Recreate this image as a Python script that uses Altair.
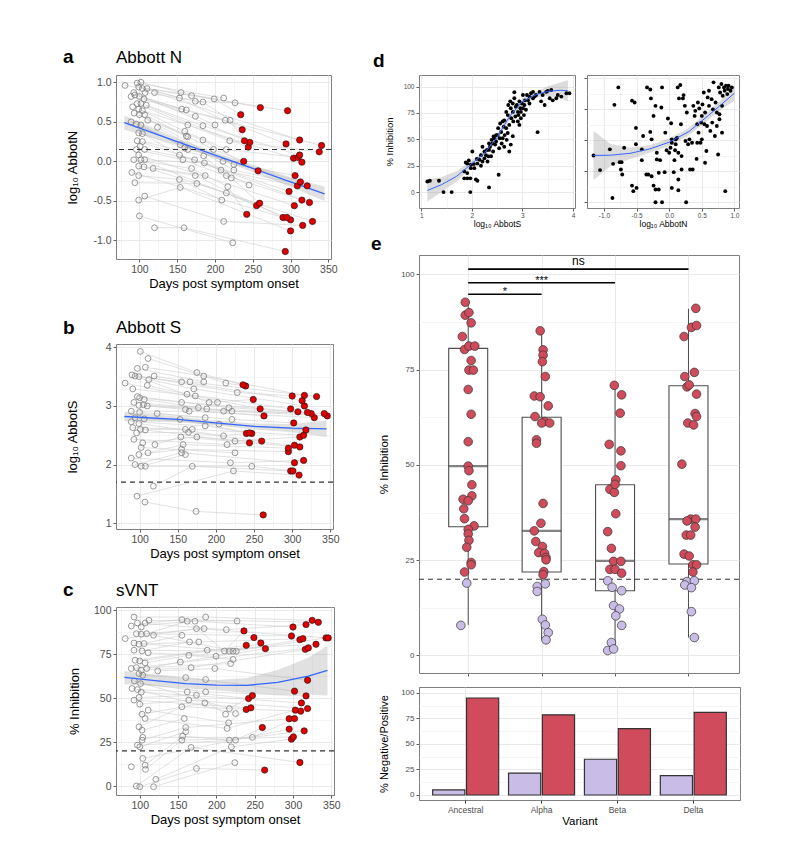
import json
import altair as alt
import pandas as pd

FONT = "Liberation Sans"
GRID = "#e8e8e8"
BLUE = "#3366ff"
RED_A = "#e00000"
RED_E = "#d04b5b"
LAV_E = "#c9bce7"

# ---------------- Panel a: Abbott N ----------------
A_V1 = [(81,0.96),(89,0.82),(92.5,0.87),(97,0.99),(99,0.94),(102,1.0),(104,0.92),(110,0.92),(107.5,0.87),(94,0.84),(100,0.82),(106,0.79),(97,0.73),(102,0.73),(109,0.71),(91,0.69),(99,0.66),(104,0.64),(93,0.61),(100,0.59),(107,0.59),(111,0.52),(89,0.50),(96,0.47),(102,0.46),(120,0.87),(124,0.43),(99,0.36),(104,0.35),(97,0.26),(104,0.25),(101,0.19),(96,0.15),(107,0.15),(99,0.08),(92.5,0.02),(102,0.02),(107,0.02),(99,-0.06),(106,-0.07),(118,-0.09),(90,-0.14),(99,-0.18),(94,-0.27),(107,-0.44),(99,-0.49),(100,-0.69),(120,-0.84)]
A_V2 = [(155,0.87),(169,0.83),(153,0.80),(174,0.76),(184,0.75),(156,0.66),(162,0.65),(174,0.57),(164,0.46),(184,0.45),(160,0.38),(162,0.32),(164,0.31),(184,0.27),(154,0.21),(160,0.17),(164,0.15),(153,0.08),(157.5,0.02),(173,0.02),(185,0.07),(186,-0.02),(169,-0.09),(174,-0.18),(176,-0.28),(187,-0.18),(153,-0.23),(154,-0.33),(159,-0.84)]
A_V3 = [(199,0.79),(211.5,0.80),(226.5,0.74),(213.7,0.52),(200,0.46),(220,0.52),(219.5,0.26),(198,0.15),(215,0.15),(210.6,0.0),(225,-0.04),(208,-0.11),(225,-0.11),(215,-0.18),(221.7,-0.21),(217,-0.32),(215,-0.40),(209,-0.49),(211.5,-0.76),(223.5,-1.03),(245,-0.30)]
A_RED = [(234,0.59),(236,0.40),(239,0.26),(246,0.24),(244,0.18),(238,0.00),(257,-0.12),(260,0.68),(255,-0.56),(259,-0.53),(242,-0.67),(296,0.64),(294,0.22),(312,0.27),(304,0.04),(310,0.05),(312,0.08),(315,-0.01),(306,-0.18),(309,-0.31),(313,-0.26),(322,-0.31),(298,-0.38),(305,-0.56),(315,-0.49),(325,-0.52),(290,-0.71),(295,-0.71),(300,-0.74),(300,-0.88),(316,-0.81),(329,-0.76),(293,-1.14),(338,0.12),(341,0.20)]
FIT_A_DAY = [80, 150, 200, 250, 300, 345]
FIT_A_Y = [0.49, 0.25, 0.08, -0.09, -0.26, -0.41]
FIT_A_LO = [0.40, 0.21, 0.045, -0.135, -0.32, -0.50]
FIT_A_HI = [0.58, 0.29, 0.115, -0.045, -0.20, -0.32]

# ---------------- Panel b: Abbott S ----------------
B_V1 = [(81,3.39),(101,3.93),(111,3.81),(97,3.64),(107.5,3.66),(90,3.53),(94,3.51),(99,3.50),(119,3.51),(112,3.45),(110,3.35),(91,3.29),(97,3.16),(100,3.14),(106,3.11),(92.5,3.06),(99,3.01),(105,3.02),(110,3.0),(89,2.91),(100,2.89),(94,2.80),(106,2.78),(123,2.87),(89,2.73),(99,2.70),(91,2.63),(101,2.60),(107.5,2.59),(96,2.54),(92.5,2.43),(104,2.37),(120,2.34),(102,2.29),(111,2.20),(99,2.17),(89,2.11),(94,2.0),(102,1.97),(107.5,1.97),(118,1.63),(96.5,1.46),(107,1.36)]
B_V2 = [(155,3.41),(166,3.41),(175,3.57),(184,3.51),(184,3.41),(162,3.20),(171,3.29),(173,3.17),(155,3.06),(160,2.94),(165,2.91),(177,2.97),(188,2.95),(186,2.80),(186,2.66),(153,2.77),(160,2.6),(164,2.55),(169,2.6),(154,2.47),(157,2.34),(175,2.47),(155,2.26),(155,2.2),(160,2.17),(169,1.97),(174,1.2)]
B_V3 = [(202,3.06),(213,3.39),(228,3.23),(217,2.97),(221,2.91),(210,2.91),(221,2.77),(210,2.49),(214.6,2.34),(225,2.40),(225,2.20),(219,2.03),(223,1.89),(247,1.97),(204,2.69),(191,3.06)]
B_RED = [(235.5,3.36),(239,3.34),(249,3.11),(258,2.95),(263,2.83),(240,2.53),(244,2.54),(247,2.53),(244,2.37),(260,2.40),(262,1.14),(300,3.17),(316,3.18),(332,3.16),(313,3.09),(316,3.0),(298,2.95),(307.5,2.90),(320,2.89),(325,2.87),(329,2.80),(342,2.87),(346,2.83),(302,2.71),(318,2.59),(315,2.50),(310,2.47),(295,2.28),(295,2.22),(303,2.33),(310,2.30),(315,2.07),(303,2.03),(298,1.89),(301,1.89),(309,1.82)]
FIT_B_DAY = [80, 150, 200, 250, 300, 345]
FIT_B_Y = [2.82, 2.77, 2.71, 2.65, 2.62, 2.61]
FIT_B_LO = [2.74, 2.72, 2.67, 2.60, 2.55, 2.47]
FIT_B_HI = [2.90, 2.82, 2.75, 2.70, 2.69, 2.75]

# ---------------- Panel c: sVNT ----------------
C_V1 = [(81,83.9),(92.5,96.2),(89,91.1),(97,92.8),(102,90.5),(107,92.8),(112,94.3),(95.6,86.7),(102,86.4),(109,86.7),(118,85.8),(92.5,81.4),(99,80.7),(105.6,81.1),(92.5,77.3),(103,76.9),(111,75.8),(94,71.6),(100,71.2),(107,70.1),(89,66.9),(95.6,67.4),(102,65.9),(109,66.9),(123.5,65.5),(99,64),(104,63.1),(93,59.8),(101,58.3),(90,55.5),(97,54.9),(102,53.4),(99,50.4),(92.5,48.9),(100,46.6),(103,40.9),(107,38.4),(111,43.2),(99,33.7),(103,31.8),(104,27.7),(103,26.1),(97,23.3),(100,22.3),(104,15.7),(107,11.9),(107.5,9.5),(89,11),(95.6,0),(100,-0.4),(118,-0.4),(121,3.8)]
C_V2 = [(155,94.7),(162,93.8),(172,93.8),(186,96.2),(174,89.6),(184,89.6),(155,85.8),(165,82),(177,82),(188,77.3),(164,74.4),(153,70.6),(167,67.4),(160,61.7),(186,60.6),(162,53.6),(186,53.6),(164,48.9),(174,51.7),(155,45.1),(185,47.3),(158,38.4),(160,33.3),(160,30.9),(156,28.4),(155,26.1),(167,22),(174,10)]
C_V3 = [(199.5,73.9),(198,66.9),(213,89),(227,93.9),(217,76.7),(221.7,76.7),(226,76.7),(210.6,76.9),(221.7,72),(218.6,69.7),(212,40.9),(217,44.1),(225,41.3),(216,36),(214,32.8),(217,26.1),(225,26.1),(219.5,22.3),(224,13.3),(247,27.7)]
C_RED = [(236,88.3),(239,80.1),(249,84.5),(258,81.4),(264,78.2),(242,49.8),(247,51.5),(239,43.6),(245,44.5),(260,33.3),(263,9.1),(300,90.5),(298,85.4),(309,83.3),(313,83.9),(317,91.9),(325,94.3),(333,93.2),(316,77.8),(320,78.6),(330,80.7),(343,84.3),(346,84.3),(319,60.2),(302,54),(317,51.3),(311,47.3),(303,43.2),(310,42.6),(319,44.1),(302,38.4),(295,38.3),(295,32.4),(314.6,31.4),(298,26.7),(300.5,28),(309,13.4)]
FIT_C_DAY = [80, 120, 160, 200, 240, 280, 320, 345]
FIT_C_Y = [61.8, 60, 58.3, 57.4, 57.3, 59, 62.5, 65.8]
FIT_C_LO = [58, 57, 55.5, 54.5, 53, 52, 52, 51.5]
FIT_C_HI = [65.5, 63, 61, 60.3, 61.5, 66, 73, 80]

DAY_MAJOR = [100, 150, 200, 250, 300, 350]
DAY_MINOR = [75, 125, 175, 225, 275, 325]

# ---------------- Panel d ----------------
DL = [(1.12,10),(1.17,10.7),(1.35,10.7),(1.44,0),(1.60,0),(1.97,0),(1.85,13),(1.91,13),(1.97,13),(2.11,10.7),(2.08,12),(2.34,4.4),(2.53,16.4),(1.88,28),(1.91,27),(1.94,30),(1.98,26),(2.01,38.5),(2.05,22.7),(2.11,27),(2.15,30.6),(2.18,25),(2.21,43),(2.25,32),(2.28,35),(2.31,29),(2.34,40),(2.38,34),(2.41,46),(2.36,43),(2.44,51),(2.48,48),(2.51,54),(2.54,41.6),(2.58,57),(2.61,51),(2.64,43),(2.68,60.6),(2.71,56),(2.74,38.5),(2.77,45),(2.81,53),(2.61,67),(2.64,68),(2.71,73),(2.77,79.5),(2.81,84),(2.84,94.6),(2.87,81),(2.91,76),(2.94,86),(2.97,70),(3.01,92),(3.04,82.6),(3.07,78),(3.11,87),(3.14,90.5),(3.17,93.7),(3.21,95),(3.24,90.5),(3.30,56.8),(3.37,86),(3.40,92),(3.44,82.6),(3.47,95),(3.50,96),(3.54,89),(3.60,87),(3.67,89),(3.87,93.7),(3.93,93.7),(2.72,82.6),(2.76,86),(2.81,76),(2.84,89),(2.89,82.6),(2.92,73),(2.96,79.5),(2.99,84),(3.03,73),(3.05,87),(3.09,92),(2.68,76),(2.63,62),(2.56,65),(2.52,60.6),(2.48,54),(2.43,52.7),(2.39,49.5),(2.34,46),(2.30,40),(2.25,38.5),(2.18,35),(2.10,31.5),(2.04,26.5),(1.98,22.7),(1.85,19.6),(1.91,18),(2.65,54),(2.69,49.5),(2.59,46),(2.55,51),(2.46,45),(2.42,38.5),(2.33,33.8),(2.21,29),(2.74,63.7),(2.78,70),(2.82,67),(2.86,71.6),(2.91,67),(2.94,63.7),(2.97,76),(3.01,79.5),(3.14,84),(3.21,89),(3.27,92),(3.34,95),(3.57,96.8),(3.70,92),(3.77,90.5)]
FIT_DL_X = [1.12, 1.4, 1.7, 2.0, 2.25, 2.5, 2.75, 3.0, 3.25, 3.5, 3.75, 3.9]
FIT_DL_Y = [1.5, 7, 15, 27, 37, 52, 72, 86, 92, 95.5, 96.5, 96]
FIT_DL_LO = [-9, 0, 10, 24, 34, 49, 69, 83, 89, 91, 89, 86]
FIT_DL_HI = [12, 14, 20, 30, 40, 55, 75, 89, 95, 100, 104, 106]

DR = [(-1.16,37.8),(-1.06,26),(-0.91,42.7),(-0.86,31),(-0.87,3.5),(-0.84,78.6),(-0.78,92.7),(-0.76,32.4),(-0.73,32.4),(-0.74,26.5),(-0.72,22.4),(-0.69,44),(-0.57,82),(-0.53,80.5),(-0.57,13.5),(-0.55,9),(-0.50,11.6),(-0.51,60),(-0.51,46.8),(-0.42,34),(-0.40,53.5),(-0.35,22.4),(-0.34,92.7),(-0.29,91),(-0.29,56.8),(-0.28,83.8),(-0.27,50.8),(-0.24,69.7),(-0.24,13.5),(-0.21,10.3),(-0.19,40),(-0.19,34.6),(-0.21,77.8),(-0.16,10.3),(-0.14,34),(-0.12,76.5),(-0.11,92.7),(-0.21,0),(-0.11,0),(-0.07,24.3),(-0.04,42),(-0.02,67.6),(0,40),(0.02,44),(0.03,63.8),(0.04,48),(0.07,24.3),(0.08,34),(0.09,42),(0.10,46.8),(0.12,52),(0.13,92.7),(0.14,9.7),(0.15,83.8),(0.17,94.6),(0.18,63),(0.19,26.5),(0.21,83.8),(0.22,86.5),(0.24,77.8),(0.25,49.5),(0.26,0),(0.27,72.4),(0.29,46.8),(0.31,50.8),(0.32,26.5),(0.35,48),(0.36,26.5),(0.37,77.8),(0.39,69.7),(0.40,73.8),(0.42,35),(0.43,63),(0.44,80.5),(0.45,56.2),(0.46,75.7),(0.48,48),(0.49,64.3),(0.50,69.7),(0.51,79),(0.53,88.6),(0.54,63),(0.55,31.9),(0.57,41.4),(0.58,61.6),(0.59,84.6),(0.61,90),(0.63,57.6),(0.65,83.2),(0.66,64.3),(0.67,75),(0.68,96.8),(0.70,53.5),(0.71,80.5),(0.73,61.6),(0.75,38.6),(0.76,92.7),(0.77,71),(0.78,88.6),(0.80,95.4),(0.81,56.2),(0.82,86),(0.84,92.7),(0.85,90),(0.86,9),(0.87,94),(0.89,87.3),(0.90,91.4),(0.91,94),(0.94,90),(0.96,92.7),(0.81,77.8),(0.77,67),(0.73,72.4),(0.61,77.8),(0.55,72.4),(0.50,50.8),(0.43,48),(0.04,50.8),(0.10,50.8),(-0.27,21),(-0.16,23.8),(0.04,11.6),(0.14,18.4),(-0.32,22.4),(0.14,40),(0.19,37.3),(-0.06,56.2),(-0.42,42.7)]
FIT_DR_X = [-1.16, -0.9, -0.6, -0.3, 0, 0.3, 0.6, 0.8, 1.0]
FIT_DR_Y = [37.8, 38, 39.5, 43, 48.5, 57, 70, 79, 88]
FIT_DR_LO = [18, 29, 35, 40, 45.5, 54, 66.5, 75, 82]
FIT_DR_HI = [57.6, 47, 44, 46, 51.5, 60, 73.5, 83, 94]

PCT_MAJOR = [0, 25, 50, 75, 100]
PCT_MINOR = [12.5, 37.5, 62.5, 87.5]

# ---------------- Panel e ----------------
VARIANTS = ["Ancestral", "Alpha", "Beta", "Delta"]
E_ANC_Y = [92.7,89.3,90,87.3,83.7,80.3,81.2,81.2,77.4,74.9,74.9,69.8,63.3,56.1,49.7,48.5,44.8,41.9,41,40.6,38.5,35.9,34,33.1,31.9,30.2,28.4,24.4,23.8,21.9,19,7.9]
E_ANC_DX = [-0.04,-0.04,0.01,0.04,-0.08,-0.05,0.01,0.09,0.04,0.01,0.07,0,0.04,0,0,0.01,0.05,0.05,-0.07,0,-0.06,-0.05,0.08,0,0,0.01,-0.02,0.04,0.04,-0.05,-0.02,-0.1]
E_ALP_Y = [85.2,80.2,78.8,77.1,73.2,68.1,67.9,65.5,62.7,61.4,61,61,56.6,55.7,39.9,34.7,32.7,29.9,28.6,27,26.8,25.7,25.1,22,21.2,18.1,18.8,16.8,9.5,8,6,4.1]
E_ALP_DX = [-0.02,0.02,0.02,0.01,0.05,-0.1,-0.02,0.09,-0.09,0.04,0,0.11,-0.07,-0.07,0.02,-0.01,-0.1,-0.08,0.01,-0.04,0.04,0.06,0.06,0.03,0.02,-0.06,0.05,-0.06,0.01,0.05,0.09,0.06]
E_BET_Y = [70.9,68.4,63.6,55.4,53.7,49.8,46.1,43.6,42.8,44.9,37.2,32.5,28.1,24.7,24.7,22.6,22.6,21.6,19.6,17.9,17,13.1,12.2,10.4,7.9,3.4,1.3,1.7]
E_BET_DX = [-0.01,0.09,0.07,-0.08,0.08,0.08,0.01,-0.07,-0.01,0,0.01,-0.1,-0.05,-0.02,0.08,-0.07,0,0.09,-0.1,-0.04,0.09,-0.02,0.06,0.01,0.09,-0.05,-0.1,-0.02]
E_DEL_Y = [91.1,86.1,86.6,83.7,74.3,73.2,70.5,71,68.6,63.5,62.7,61,60.5,50.2,35.8,35.8,35.3,33.7,31.6,31.6,26.6,26.1,23.8,23.8,21.9,19.4,19.6,18.5,17.8,11.5,4.7]
E_DEL_DX = [0.1,0.04,0.11,-0.06,0.08,-0.05,-0.02,0.01,0.11,0.09,0.11,-0.01,0.07,-0.09,0.03,0.1,-0.02,0.09,-0.03,0.03,-0.06,0.01,0.06,0.11,0.06,-0.02,0.08,-0.05,0.04,0.04,0.08]
BOX_MIN = [8.0, 4.1, 1.3, 4.7]
BOX_Q1 = [33.8, 21.9, 17.0, 24.0]
BOX_MED = [49.7, 32.7, 24.8, 35.8]
BOX_Q3 = [80.6, 62.5, 44.8, 70.8]
BOX_MAX = [92.7, 85.2, 70.9, 91.0]
SIG_X1 = [1, 1, 1]
SIG_X2 = [2, 3, 4]
SIG_Y = [94.8, 97.8, 101.4]
SIG_LAB = ["*", "***", "ns"]
BAR_NEG = [5, 21.5, 35, 19]
BAR_POS = [95, 78.5, 65, 81]


def test_of(major):
    return "indexof(%s, datum.value) >= 0" % json.dumps(major)


def axis(major, minor=(), fmt="d", title=None, lsize=10.5, tsize=13, tpad=4, lpad=2, labels=True):
    major = list(major)
    vals = sorted(set(major) | set(minor))
    t = test_of(major)
    kw = dict(values=vals, grid=True, gridColor=GRID,
              gridWidth={"condition": {"test": t, "value": 0.9}, "value": 0.45},
              tickOpacity={"condition": {"test": t, "value": 1}, "value": 0},
              tickSize=3, tickColor="#333333", tickWidth=0.8, domain=False,
              labelFont=FONT, labelFontSize=lsize, labelColor="#4d4d4d", labelPadding=lpad,
              titleFont=FONT, titleFontSize=tsize, titleFontWeight="normal", titleColor="#000000",
              titlePadding=tpad, labelFlush=False, labelOverlap=False, title=title)
    if labels:
        kw["labelExpr"] = f"{t} ? replace(format(datum.value, '{fmt}'), '\u2212', '-') : ''"
    else:
        kw["labels"] = False
    return alt.Axis(**kw)


def txt(s, x, y, size, bold=False, opacity=1):
    return alt.Chart(pd.DataFrame({"t": [s]})).mark_text(
        font=FONT, fontSize=size, fontWeight="bold" if bold else "normal",
        align="left", baseline="alphabetic", color="black", opacity=opacity
    ).encode(x=alt.value(x), y=alt.value(y), text="t:N")


def link(clusters):
    n0 = len(clusters[0])
    rows = []
    for k, cl in enumerate(clusters):
        order = sorted(range(len(cl)), key=lambda j: cl[j][1])
        n = len(cl)
        for r, j in enumerate(order):
            sid = int(round((r + 0.5) * n0 / n - 0.5))
            rows.append({"subj": sid, "day": cl[j][0], "val": cl[j][1],
                         "red": int(k == len(clusters) - 1)})
    return pd.DataFrame(rows)


def timecourse(clusters, ydom, ymaj, ymin, yfmt, ytitle, ytpad, hline, fit,
               letter, title, width, height, ly, ty, extra=()):
    df = link(clusters)
    xs = alt.Scale(domain=[69, 353.5], nice=False, zero=False)
    ys = alt.Scale(domain=ydom, nice=False, zero=False)
    xa = axis(DAY_MAJOR, DAY_MINOR, "d", "Days post symptom onset", tpad=3, lpad=2)
    ya = axis(ymaj, ymin, yfmt, ytitle, tpad=ytpad, lpad=2)

    def X(f):
        return alt.X(f, type="quantitative", scale=xs, axis=xa)

    def Y(f):
        return alt.Y(f, type="quantitative", scale=ys, axis=ya)

    base = alt.Chart(df)
    lines = base.mark_line(color="#cdcdcd", strokeWidth=0.6).encode(
        X("day"), Y("val"), detail="subj:N", order="day:Q")
    grey = base.transform_filter("datum.red == 0").mark_point(
        shape="circle", filled=False, color="#7f7f7f", size=34, strokeWidth=0.8, opacity=1
    ).encode(X("day"), Y("val"))
    reds = base.transform_filter("datum.red == 1").mark_circle(
        fill=RED_A, stroke="#111111", strokeWidth=0.6, size=40, opacity=1
    ).encode(X("day"), Y("val"))
    fdf = pd.DataFrame({"day": fit[0], "fit": fit[1], "lo": fit[2], "hi": fit[3]})
    band = alt.Chart(fdf).mark_area(color="#9a9a9a", opacity=0.3, clip=True).encode(
        X("day"), Y("lo"), y2=alt.Y2("hi"))
    fl = alt.Chart(fdf).mark_line(color=BLUE, strokeWidth=1.3, clip=True).encode(X("day"), Y("fit"))
    hl = alt.Chart(pd.DataFrame({"v": [hline]})).mark_rule(
        color="#333333", strokeWidth=1.2, strokeDash=[5, 4]).encode(Y("v"))
    return alt.layer(lines, band, grey, fl, hl, reds,
                     txt(letter, -53, ly, 19, True), txt(title, 0, ty, 17), *extra
                     ).properties(width=width, height=height)


panel_a = timecourse([A_V1, A_V2, A_V3, A_RED], [-1.235, 1.092], [-1.0, -0.5, 0.0, 0.5, 1.0],
                     [-0.75, -0.25, 0.25, 0.75], ".1f", "log\u2081\u2080 AbbotN", 13, 0.15,
                     (FIT_A_DAY, FIT_A_Y, FIT_A_LO, FIT_A_HI), "a", "Abbott N", 215, 184, -12, -12,
                     extra=(txt("a", -53, -22, 19, True, opacity=0),))
panel_b = timecourse([B_V1, B_V2, B_V3, B_RED], [0.9, 4.057], [1, 2, 3, 4], [1.5, 2.5, 3.5], "d",
                     "log\u2081\u2080 AbbotS", 26, 1.7,
                     (FIT_B_DAY, FIT_B_Y, FIT_B_LO, FIT_B_HI), "b", "Abbott S", 217, 185, -10, -11)
panel_c = timecourse([C_V1, C_V2, C_V3, C_RED], [-5.1, 101.9], PCT_MAJOR, PCT_MINOR, "d",
                     "% Inhibition", 12, 20,
                     (FIT_C_DAY, FIT_C_Y, FIT_C_LO, FIT_C_HI), "c", "sVNT", 218, 188, -11, -11)


def scatter(pts, xdom, ydom, xmaj, xmin, xfmt, xtitle, ylabels, fit, width, height, extra=()):
    df = pd.DataFrame(pts, columns=["x", "y"])
    xs = alt.Scale(domain=xdom, nice=False, zero=False)
    ys = alt.Scale(domain=ydom, nice=False, zero=False)
    xa = axis(xmaj, xmin, xfmt, xtitle, lsize=6.5, tsize=8.5, tpad=1, lpad=1)
    if ylabels:
        ya = axis(PCT_MAJOR, PCT_MINOR, "d", "% Inhibition", lsize=6.5, tsize=9.5, tpad=9, lpad=2)
    else:
        ya = axis(PCT_MAJOR, PCT_MINOR, "d", None, labels=False)

    def X(f):
        return alt.X(f, type="quantitative", scale=xs, axis=xa)

    def Y(f):
        return alt.Y(f, type="quantitative", scale=ys, axis=ya)

    fdf = pd.DataFrame({"x": fit[0], "fit": fit[1], "lo": fit[2], "hi": fit[3]})
    band = alt.Chart(fdf).mark_area(color="#9a9a9a", opacity=0.35, clip=True).encode(
        X("x"), Y("lo"), y2=alt.Y2("hi"))
    pts_l = alt.Chart(df).mark_circle(color="black", size=15, opacity=1).encode(X("x"), Y("y"))
    fl = alt.Chart(fdf).mark_line(color=BLUE, strokeWidth=1.0, clip=True).encode(X("x"), Y("fit"))
    return alt.layer(band, pts_l, fl, *extra).properties(width=width, height=height)


panel_dl = scatter(DL, [0.955, 4.04], [-15.1, 111], [1, 2, 3, 4], [1.5, 2.5, 3.5], "d",
                   "log\u2081\u2080 AbbotS", True, (FIT_DL_X, FIT_DL_Y, FIT_DL_LO, FIT_DL_HI),
                   156, 133, extra=(txt("d", -46, -8, 19, True),))
panel_dr = scatter(DR, [-1.26, 1.07], [-4.6, 102.7], [-1.0, -0.5, 0.0, 0.5, 1.0],
                   [-0.75, -0.25, 0.25, 0.75], ".1f", "log\u2081\u2080 AbbotN", False,
                   (FIT_DR_X, FIT_DR_Y, FIT_DR_LO, FIT_DR_HI), 152, 133)

# ---- e top ----
rows = []
for i, (ys_, dxs) in enumerate([(E_ANC_Y, E_ANC_DX), (E_ALP_Y, E_ALP_DX),
                                (E_BET_Y, E_BET_DX), (E_DEL_Y, E_DEL_DX)]):
    for yv, dx in zip(ys_, dxs):
        rows.append({"i": i + 1, "dx": dx, "y": yv})
edf = pd.DataFrame(rows)
box_df = pd.DataFrame({"i": [1, 2, 3, 4], "lo": BOX_MIN, "q1": BOX_Q1, "med": BOX_MED,
                       "q3": BOX_Q3, "hi": BOX_MAX})
sig_df = pd.DataFrame({"x1": SIG_X1, "x2": SIG_X2, "y": SIG_Y, "lab": SIG_LAB})

ex_s = alt.Scale(domain=[0.398, 4.62], nice=False, zero=False)
ey_s = alt.Scale(domain=[-4.6, 105.1], nice=False, zero=False)
ex_a = axis([1, 2, 3, 4], (), "d", None, labels=False)
ey_a = axis(PCT_MAJOR, PCT_MINOR, "d", "% Inhibition", lsize=8, tsize=11.5, tpad=11, lpad=2)


def EX(f):
    return alt.X(f, type="quantitative", scale=ex_s, axis=ex_a)


def EY(f):
    return alt.Y(f, type="quantitative", scale=ey_s, axis=ey_a)


whisk = alt.Chart(box_df).mark_rule(color="#4d4d4d", strokeWidth=1.0).encode(EX("i"), EY("lo"), y2=alt.Y2("hi"))
boxes = alt.Chart(box_df).mark_bar(size=39, fill="white", stroke="#4d4d4d", strokeWidth=1.1).encode(
    EX("i"), EY("q1"), y2=alt.Y2("q3"))
meds = alt.Chart(box_df).mark_tick(orient="horizontal", size=39, thickness=2.2, color="#4d4d4d").encode(
    EX("i"), EY("med"))
ehl = alt.Chart(pd.DataFrame({"v": [20]})).mark_rule(color="#333333", strokeWidth=1.1, strokeDash=[5, 4]).encode(EY("v"))
epts = alt.Chart(edf).transform_calculate(xx="datum.i + datum.dx").mark_circle(
    size=75, stroke="#333333", strokeWidth=0.7, opacity=1
).encode(EX("xx"), EY("y"),
         color=alt.condition("datum.y >= 20", alt.value(RED_E), alt.value(LAV_E)))
sig_rules = alt.Chart(sig_df).mark_rule(color="black", strokeWidth=1.6).encode(EX("x1"), x2=alt.X2("x2"), y=EY("y"))
sig_star = alt.Chart(sig_df).transform_filter("datum.lab != 'ns'").transform_calculate(
    xm="(datum.x1 + datum.x2) / 2").mark_text(font=FONT, fontSize=11, dy=1, baseline="alphabetic", color="black").encode(
    EX("xm"), EY("y"), text="lab:N")
sig_ns = alt.Chart(sig_df).transform_filter("datum.lab == 'ns'").transform_calculate(
    xm="(datum.x1 + datum.x2) / 2").mark_text(font=FONT, fontSize=12, dy=-4, baseline="alphabetic", color="black").encode(
    EX("xm"), EY("y"), text="lab:N")
panel_e = alt.layer(whisk, boxes, meds, ehl, epts, sig_rules, sig_star, sig_ns,
                    txt("e", -48, -5, 19, True)).properties(width=320, height=418)

# ---- e bottom ----
bar_rows = []
for v, n, p in zip(VARIANTS, BAR_NEG, BAR_POS):
    bar_rows.append({"variant": v, "res": "Negative", "pct": n})
    bar_rows.append({"variant": v, "res": "Positive", "pct": p})
bdf = pd.DataFrame(bar_rows)
panel_f = alt.Chart(bdf).mark_bar(stroke="#333333", strokeWidth=1.2).encode(
    x=alt.X("variant:N", sort=VARIANTS, scale=alt.Scale(paddingInner=0.13, paddingOuter=0.18),
            axis=alt.Axis(title="Variant", labelAngle=0, labelFont=FONT, labelFontSize=8.5,
                          labelColor="#4d4d4d", titleFont=FONT, titleFontSize=11.5,
                          titleFontWeight="normal", titleColor="black", tickSize=3,
                          tickColor="#333333", domain=False, grid=True, gridColor=GRID,
                          gridWidth=0.9, bandPosition=0.5, labelPadding=2, titlePadding=2)),
    xOffset=alt.XOffset("res:N", sort=["Negative", "Positive"], scale=alt.Scale(paddingInner=0.05)),
    y=alt.Y("pct:Q", scale=alt.Scale(domain=[-4.9, 105.8], nice=False, zero=False),
            axis=axis(PCT_MAJOR, PCT_MINOR, "d", "% Negative/Positive", lsize=8, tsize=11,
                      tpad=11, lpad=2)),
    color=alt.Color("res:N", scale=alt.Scale(domain=["Negative", "Positive"], range=[LAV_E, RED_E]),
                    legend=None),
).properties(width=321, height=113)

left = alt.vconcat(panel_a, alt.vconcat(panel_b, panel_c, spacing=19), spacing=27)
right = alt.vconcat(alt.hconcat(panel_dl, panel_dr, spacing=7),
                    alt.vconcat(panel_e, panel_f, spacing=9), spacing=5)

chart = alt.hconcat(left, right, spacing=29).properties(
    padding={"left": 54, "top": 29, "right": 5, "bottom": 5}
).configure_view(stroke="#7f7f7f", strokeWidth=1)

chart.save("out.html", embed_options={"renderer": "svg", "actions": False})
